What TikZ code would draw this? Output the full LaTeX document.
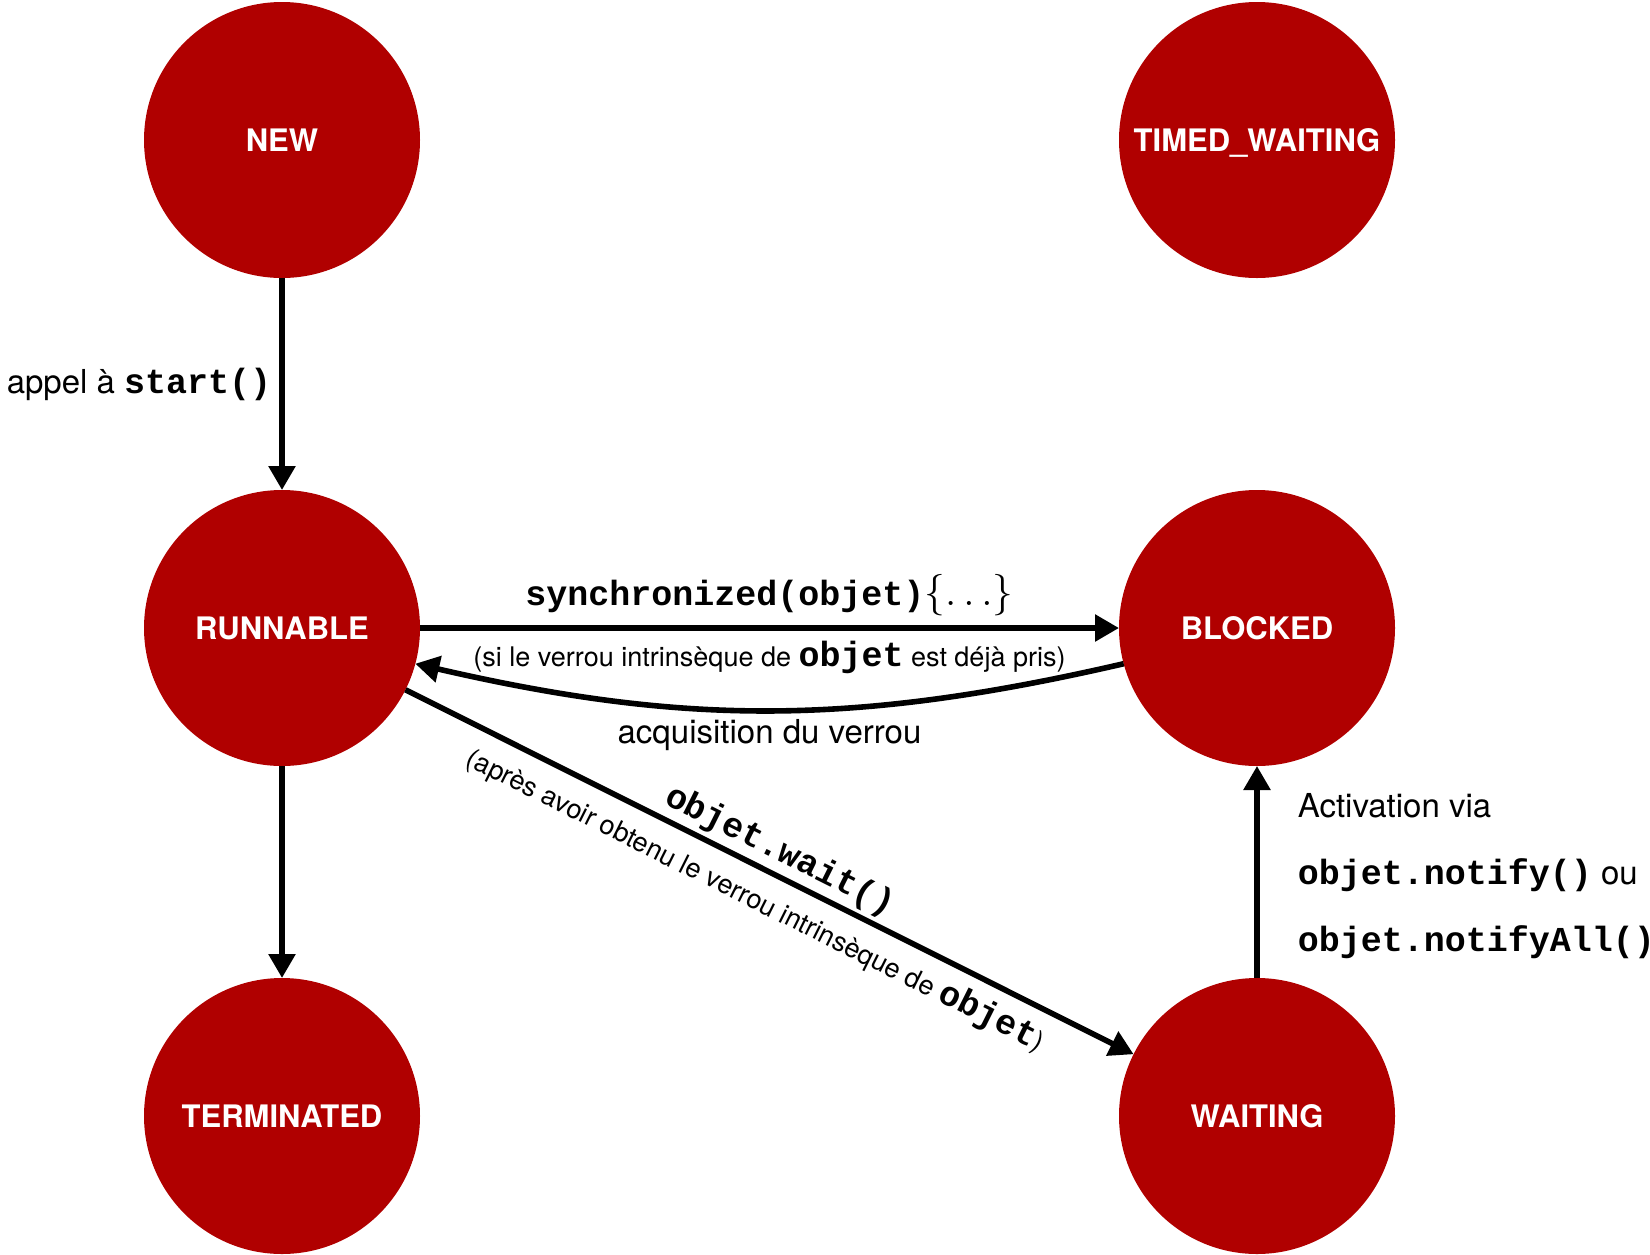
\documentclass[tikz,border=0pt]{standalone}
\usepackage{fontspec}
\setmainfont{TeX Gyre Heros}
\setmonofont{Liberation Mono}
\usepackage{xcolor}
\usetikzlibrary{positioning,arrows.meta}
\definecolor{statered}{RGB}{176,0,0}
\newcommand{\code}[1]{{\fontsize{17.5}{33.5}\selectfont\ttfamily\bfseries #1}}

\begin{document}
\begin{tikzpicture}[
      x=0.5pt, y=-0.5pt,
      >={Triangle[length=12pt,width=13pt]}, node distance=106pt and 349.5pt,
      state/.style={circle, fill=statered, text=white, inner sep=0pt,
                    outer sep=0pt, minimum size=138pt, text depth=0pt,
                    font=\fontsize{15.5}{18}\selectfont\bfseries},
      arr/.style={->, line width=2.8pt, draw=black},
      lbl/.style={inner sep=0pt, font=\fontsize{16.5}{33.5}\selectfont},
      small/.style={inner sep=0pt, font=\fontsize{13.5}{16}\selectfont}
    ]
    \useasboundingbox (0,0) rectangle (1650,1254);
    % states
    \node[state] (new) at (282,140) {NEW};
    \node[state, below=of new]      (runnable)   {RUNNABLE};
    \node[state, below=of runnable] (terminated) {TERMINATED};
    \node[state, right=of new]      (timed)      {TIMED\_WAITING};
    \node[state, right=of runnable] (blocked)    {BLOCKED};
    \node[state, right=of terminated] (waiting)  {WAITING};
    % transitions
    \draw[arr] (new) -- node[lbl, left=4pt]{appel à \code{start()}} (runnable);
    \draw[arr] (runnable) -- (terminated);
    \draw[arr] (runnable) -- node[lbl, above=4.5pt]{\code{synchronized(objet)}{\fontsize{21}{24}\selectfont$\{\ldots\}$}}
                             node[small, below=5pt]{(si le verrou intrinsèque de \code{objet} est déjà pris)}
                             (blocked);
    \draw[arr] (blocked.195) to[bend left=13]
               node[lbl, below=3pt]{acquisition du verrou} (runnable.-15);
    \draw[arr] (runnable) -- node[lbl, sloped, above=2pt]{\code{objet.wait()}}
                             node[small, sloped, below=6pt]{(après avoir obtenu le verrou intrinsèque de \code{objet})}
                             (waiting);
    \draw[arr] (waiting) -- node[lbl, right=19pt, yshift=-2pt, align=left]
               {Activation via\\\code{objet.notify()} ou\\\code{objet.notifyAll()}} (blocked);
  \end{tikzpicture}
\end{document}
